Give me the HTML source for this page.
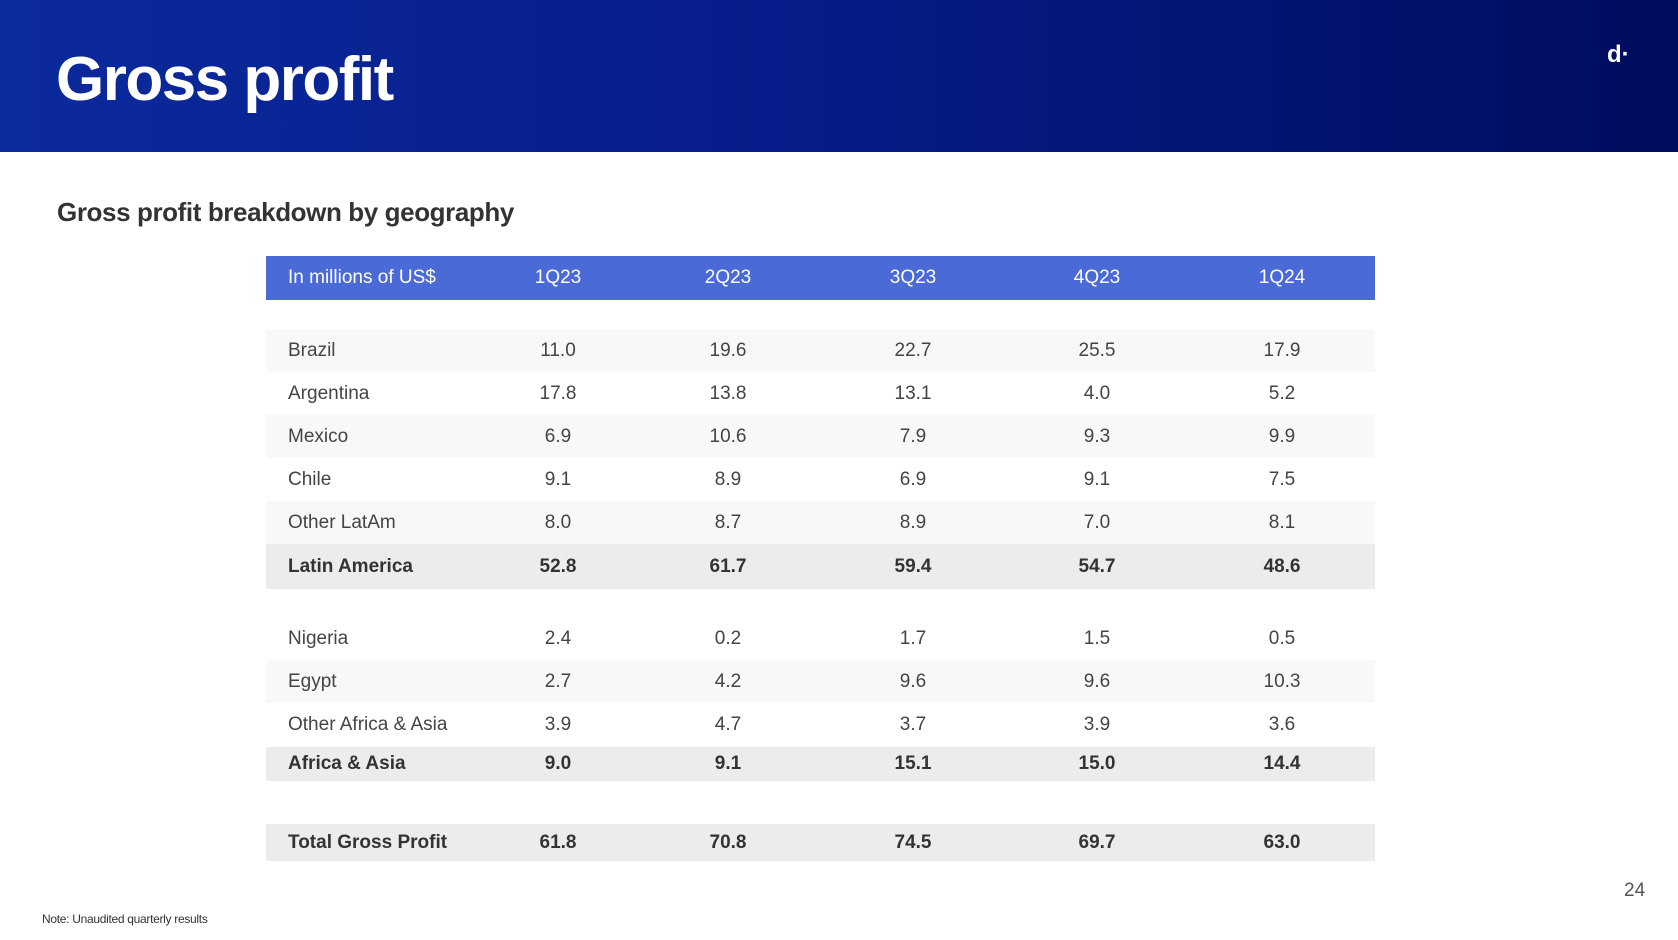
<!DOCTYPE html>
<html><head><meta charset="utf-8"><style>
*{margin:0;padding:0;box-sizing:border-box}
body{width:1678px;height:940px;position:relative;background:#fff;font-family:"Liberation Sans",sans-serif;overflow:hidden}
.hdr{position:absolute;left:0;top:0;width:1678px;height:152px;background:linear-gradient(90deg,#0b2a9c 0%,#061b88 50%,#000c5c 100%)}
.title{position:absolute;left:56px;top:44px;color:#fff;font-weight:bold;font-size:62px;letter-spacing:-1.5px}
.logo{position:absolute;left:1607px;top:41px;color:#fff;font-weight:bold;font-size:24px}
.sub{position:absolute;left:57px;top:197px;color:#333;font-weight:bold;font-size:26px;letter-spacing:-0.4px}
.row{position:absolute;left:266px;width:1109px;font-size:19px;color:#444}
.row span{position:absolute;top:50%;transform:translate(-50%,-50%);white-space:nowrap}
.row span.l{transform:translate(0,-50%);left:22px}
.head{background:#4a6ad8;color:#fff}
.b{font-weight:bold;color:#333;background:#ececec}
.alt{background:#f8f8f8}
.pg{position:absolute;left:1624px;top:880px;font-size:19px;color:#555}
.note{position:absolute;left:42px;top:912px;font-size:12px;color:#333;letter-spacing:-0.3px}
</style></head><body>
<div class="hdr"></div>
<div class="title">Gross profit</div>
<div class="logo">d·</div>
<div class="sub">Gross profit breakdown by geography</div>
<div id="tbl"></div>
<div class="pg">24</div>
<div class="note">Note: Unaudited quarterly results</div>
<script>
const quarters=["1Q23","2Q23","3Q23","4Q23","1Q24"];
const labels=["Brazil","Argentina","Mexico","Chile","Other LatAm","Latin America","Nigeria","Egypt","Other Africa & Asia","Africa & Asia","Total Gross Profit"];
const brazil=["11.0","19.6","22.7","25.5","17.9"];
const argentina=["17.8","13.8","13.1","4.0","5.2"];
const mexico=["6.9","10.6","7.9","9.3","9.9"];
const chile=["9.1","8.9","6.9","9.1","7.5"];
const otherLatam=["8.0","8.7","8.9","7.0","8.1"];
const latam=["52.8","61.7","59.4","54.7","48.6"];
const nigeria=["2.4","0.2","1.7","1.5","0.5"];
const egypt=["2.7","4.2","9.6","9.6","10.3"];
const otherAfrica=["3.9","4.7","3.7","3.9","3.6"];
const africa=["9.0","9.1","15.1","15.0","14.4"];
const total=["61.8","70.8","74.5","69.7","63.0"];
const series=[brazil,argentina,mexico,chile,otherLatam,latam,nigeria,egypt,otherAfrica,africa,total];
const rowsY=[[330,42,'alt'],[372,43,''],[415,43,'alt'],[458,43,''],[501,43,'alt'],[544,45,'b'],[617,43,''],[660,43,'alt'],[703,43,''],[747,34,'b'],[824,37,'b']];
const colX=[292,462,647,831,1016];
const tbl=document.getElementById('tbl');
function mk(cls,top,h,label,vals,name){
 const r=document.createElement('div');
 r.className='row '+cls;r.style.top=top+'px';r.style.height=h+'px';
 
 
 const l=document.createElement('span');l.className='l';l.textContent=label;
 
 
 r.appendChild(l);
 vals.forEach((v,i)=>{const s=document.createElement('span');s.style.left=colX[i]+'px';s.textContent=v;
  
  
  r.appendChild(s);});
 tbl.appendChild(r);
}
mk('head',256,44,'In millions of US$',quarters,'table-header-row');
labels.forEach((lb,i)=>mk(rowsY[i][2],rowsY[i][0],rowsY[i][1],lb,series[i],'row-'+lb.toLowerCase().replace(/[^a-z]+/g,'-')));
</script>
</body></html>
